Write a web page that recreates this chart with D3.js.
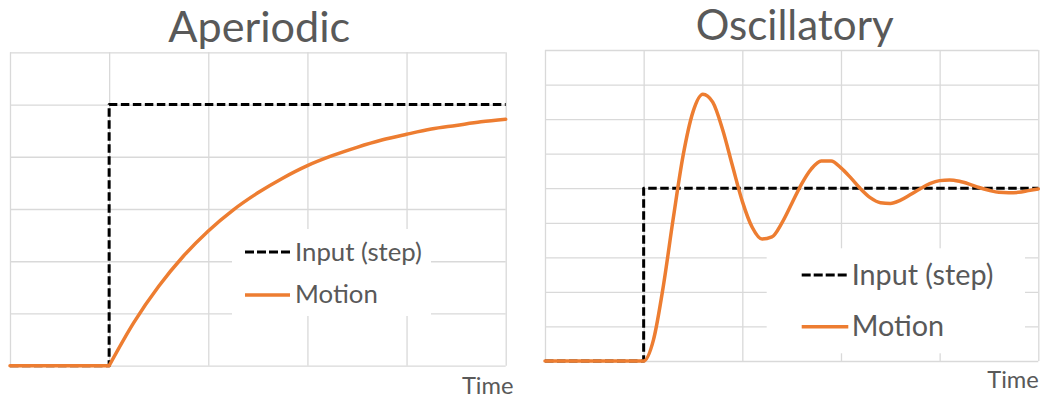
<!DOCTYPE html>
<html>
<head>
<meta charset="utf-8">
<script src="https://cdn.jsdelivr.net/npm/d3@7"></script>
<style>
  html, body { margin: 0; padding: 0; background: #ffffff; }
  svg { display: block; }
  text { font-family: Lato, "Open Sans", sans-serif; fill: #595959; }
</style>
</head>
<body>
<svg id="chart" width="1044" height="400"></svg>
<script>
// ---------- data ----------
const timeTicks = [0, 1, 2, 3, 4, 5];
const aperiodicYTicks = [0, 1, 2, 3, 4, 5, 6];
const oscillatoryYTicks = [0, 1, 2, 3, 4, 5, 6, 7, 8, 9];

const stepTime = 1;
const inputTime = [0, 1, 1, 5];
const inputAperiodic = [0, 0, 5, 5];
const inputOscillatory = [0, 0, 5, 5];

const aperiodicTime = [0, 1, 1.25, 1.5, 1.75, 2, 2.25, 2.5, 2.75, 3, 3.25, 3.5, 3.75, 4, 4.25, 4.5, 4.75, 5];
const aperiodicMotion = [0, 0, 0.83, 1.52, 2.10, 2.58, 2.98, 3.31, 3.59, 3.83, 4.02, 4.18, 4.32, 4.43, 4.53, 4.60, 4.67, 4.72];

const oscillatoryTime = [0, 1, 1.1, 1.2, 1.3, 1.4, 1.5, 1.6, 1.7, 1.8, 1.9, 2.0, 2.1, 2.2, 2.3, 2.4, 2.5, 2.6, 2.7, 2.8, 2.9,
  3.0, 3.1, 3.2, 3.3, 3.4, 3.5, 3.6, 3.7, 3.8, 3.9, 4.0, 4.1, 4.2, 4.3, 4.4, 4.5, 4.6, 4.7, 4.8, 4.9, 5.0];
const oscillatoryMotion = [0, 0, 0.62, 2.18, 4.13, 5.95, 7.21, 7.72, 7.49, 6.70, 5.65, 4.62, 3.87, 3.53, 3.59, 3.99, 4.55,
  5.12, 5.56, 5.79, 5.79, 5.59, 5.30, 4.98, 4.72, 4.58, 4.56, 4.65, 4.81, 4.98, 5.13, 5.22, 5.24, 5.20, 5.12, 5.02,
  4.94, 4.88, 4.87, 4.88, 4.93, 4.98];

const seriesNames = ["Input (step)", "Motion"];
const titles = ["Aperiodic", "Oscillatory"];
const axisLabel = "Time";

// ---------- styles ----------
const ORANGE = "#ED7D31";
const GRID = "#d9d9d9";
const DASH = "8.5,3.5";

const svg = d3.select("#chart");

function fitWidth(sel, target) {
  const w = sel.node().getComputedTextLength();
  const fs = parseFloat(sel.attr("font-size"));
  sel.attr("font-size", fs * target / w);
  return fs * target / w;
}

function panel(cfg) {
  const x = d3.scaleLinear().domain([0, 5]).range([cfg.x0, cfg.x1]);
  const y = d3.scaleLinear().domain([0, cfg.yTicks[cfg.yTicks.length - 1]]).range([cfg.y1, cfg.y0]);
  const g = svg.append("g");

  // gridlines
  const gx = g.append("g").attr("transform", `translate(0,${cfg.y1})`)
    .call(d3.axisBottom(x).tickValues(timeTicks).tickSize(-(cfg.y1 - cfg.y0)).tickFormat(""));
  const gy = g.append("g").attr("transform", `translate(${cfg.x0},0)`)
    .call(d3.axisLeft(y).tickValues(cfg.yTicks).tickSize(-(cfg.x1 - cfg.x0)).tickFormat(""));
  [gx, gy].forEach(a => {
    a.select(".domain").remove();
    a.selectAll("line").attr("stroke", GRID).attr("stroke-width", 1.3);
  });

  // input (step)
  const inputData = inputTime.map((t, i) => [t, cfg.input[i]]);
  g.append("path")
    .attr("d", d3.line().x(d => x(d[0])).y(d => y(d[1]))(inputData))
    .attr("fill", "none").attr("stroke", "#000").attr("stroke-width", 3)
    .attr("stroke-dasharray", DASH).attr("stroke-linejoin", "round");

  // motion
  const motionData = cfg.time.map((t, i) => [t, cfg.motion[i]]);
  let d;
  if (cfg.kinked) {
    const before = motionData.filter(p => p[0] <= stepTime);
    const after = motionData.filter(p => p[0] >= stepTime);
    d = d3.line().x(p => x(p[0])).y(p => y(p[1]))(before) +
        d3.line().curve(d3.curveMonotoneX).x(p => x(p[0])).y(p => y(p[1]))(after);
  } else {
    d = d3.line().curve(d3.curveMonotoneX).x(p => x(p[0])).y(p => y(p[1]))(motionData);
  }
  g.append("path")
    .attr("d", d)
    .attr("fill", "none").attr("stroke", ORANGE).attr("stroke-width", 3.5)
    .attr("stroke-linejoin", "round").attr("stroke-linecap", "round");

  // title
  const t = g.append("text").text(cfg.title)
    .attr("x", cfg.titleX).attr("y", cfg.titleY)
    .attr("text-anchor", "middle").attr("font-size", 40);
  fitWidth(t, cfg.titleW);

  // axis label
  const tl = g.append("text").text(axisLabel)
    .attr("x", cfg.timeX).attr("y", cfg.timeY)
    .attr("text-anchor", "end").attr("font-size", 24);
  fitWidth(tl, 51.6);

  // legend
  const L = cfg.legend;
  g.append("rect").attr("x", L.bx0).attr("y", L.by0)
    .attr("width", L.bx1 - L.bx0).attr("height", L.by1 - L.by0).attr("fill", "#fff");
  g.append("line").attr("x1", L.lx0).attr("x2", L.lx1).attr("y1", L.ly[0]).attr("y2", L.ly[0])
    .attr("stroke", "#000").attr("stroke-width", 3).attr("stroke-dasharray", "9,3");
  g.append("line").attr("x1", L.lx0).attr("x2", L.lx1).attr("y1", L.ly[1]).attr("y2", L.ly[1])
    .attr("stroke", ORANGE).attr("stroke-width", 3.5);
  const t1 = g.append("text").text(seriesNames[0])
    .attr("x", L.tx).attr("y", L.ty[0]).attr("font-size", 24);
  const fs = fitWidth(t1, L.tw);
  g.append("text").text(seriesNames[1])
    .attr("x", L.tx).attr("y", L.ty[1]).attr("font-size", fs);
}

panel({
  x0: 10, x1: 505.7, y0: 52.3, y1: 365.7,
  yTicks: aperiodicYTicks, kinked: true,
  input: inputAperiodic, time: aperiodicTime, motion: aperiodicMotion,
  title: titles[0], titleX: 259.3, titleY: 42.3, titleW: 182,
  timeX: 513.5, timeY: 393.5,
  legend: { bx0: 232, bx1: 431, by0: 229, by1: 316, lx0: 245, lx1: 290, ly: [252, 295],
            tx: 295, ty: [261, 303], tw: 127 }
});

panel({
  x0: 545, x1: 1038.3, y0: 50, y1: 361,
  yTicks: oscillatoryYTicks, kinked: false,
  input: inputOscillatory, time: oscillatoryTime, motion: oscillatoryMotion,
  title: titles[1], titleX: 794.7, titleY: 40, titleW: 198,
  timeX: 1038.8, timeY: 387.5,
  legend: { bx0: 766.7, bx1: 1025, by0: 248.3, by1: 353.3, lx0: 801.7, lx1: 848.3, ly: [275, 326.7],
            tx: 851.7, ty: [284.5, 335.5], tw: 141.7 }
});
</script>
</body>
</html>
